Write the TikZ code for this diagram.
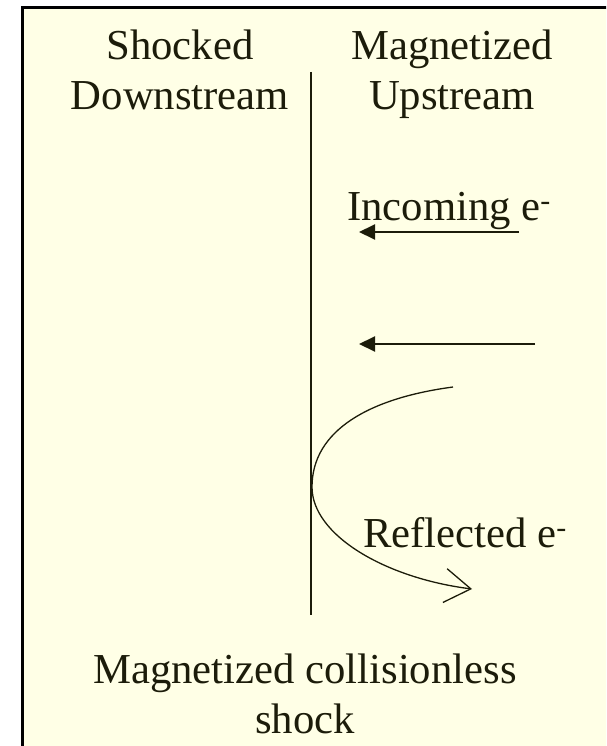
\documentclass[tikz,border=0pt]{standalone}
\usepackage{fontspec}
\setmainfont{Liberation Serif}
\usetikzlibrary{positioning, arrows.meta}
\definecolor{slidebg}{RGB}{255,255,230}
\definecolor{ink}{RGB}{28,28,10}

\begin{document}
\begin{tikzpicture}[x=1pt, y=-1pt,
  slide text/.style={font=\fontsize{42.7}{50}\selectfont, text=ink, align=center, inner sep=0pt},
  incoming/.style={draw=ink, line width=2pt, -{Triangle[length=16pt,width=15pt]}},
  reflected/.style={draw=ink, line width=1.3pt, -{Straight Barb[length=26pt,width=34pt]}}]
\useasboundingbox (0,0) rectangle (606,746);
\clip (0,0) rectangle (606,746);
\fill[slidebg, draw=black, line width=3pt] (22,8) rectangle (640,780);

% shock front
\coordinate (front top) at (311,72);
\coordinate (front bottom) at (311,615);
\draw[ink, line width=2pt] (front top) -- (front bottom);

% base = baseline of the last line
\node[slide text, anchor=base] (downstream) at (180,110) {Shocked\\Downstream};
\node[slide text, anchor=base] (upstream) at (452,110) {Magnetized\\Upstream};

\node[slide text, anchor=base west] (incoming label) at (347,220) {Incoming e\textsuperscript{-}};
\coordinate (in1 tail) at (519,232);
\coordinate (in1 tip) at (359,232);
\coordinate (in2 tail) at (535,344);
\coordinate (in2 tip) at (359,344);
\draw[incoming] (in1 tail) -- (in1 tip);
\draw[incoming] (in2 tail) -- (in2 tip);

% reflected electron path
\coordinate (refl start) at (453,387);
\coordinate (refl turn) at (312,487);
\coordinate (refl end) at (472,589);
\draw[reflected] (refl start) .. controls (370,398) and (312,430) .. (refl turn)
  .. controls (312,535) and (385,578) .. (refl end);
\node[slide text, anchor=base west] (reflected label) at (363,547) {Reflected e\textsuperscript{-}};

\node[slide text, anchor=base] (caption) at (305,733) {Magnetized collisionless\\shock};
\end{tikzpicture}
\end{document}
